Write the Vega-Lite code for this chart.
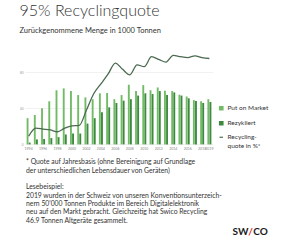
{
  "$schema": "https://vega.github.io/schema/vega-lite/v6.json",
  "background": "white",
  "padding": {"left": 19, "top": 3, "right": 0, "bottom": 0},
  "config": {
    "view": {"stroke": null},
    "font": "Lato",
    "concat": {"spacing": 4}
  },
  "title": {
    "text": "95% Recyclingquote",
    "subtitle": "Zurückgenommene Menge in 1000 Tonnen",
    "anchor": "start",
    "font": "Lato",
    "fontSize": 16,
    "fontWeight": 300,
    "color": "#333333",
    "subtitleFont": "Lato",
    "subtitleFontSize": 7.5,
    "subtitleColor": "#333333",
    "subtitlePadding": 8,
    "offset": 18
  },
  "resolve": {"scale": {"color": "independent"}, "legend": {"color": "independent"}},
  "vconcat": [
    {
      "width": 188,
      "height": 90.4,
      "data": {
        "values": [
          {"year": 1994, "pom": 29, "rez": 2, "quote": 9},
          {"year": 1995, "pom": 32.5, "rez": 5.5, "quote": 18},
          {"year": 1996, "pom": 40, "rez": 6, "quote": 17},
          {"year": 1997, "pom": 47.7, "rez": 7, "quote": 16},
          {"year": 1998, "pom": 60, "rez": 8, "quote": 14},
          {"year": 1999, "pom": 62, "rez": 11, "quote": 18},
          {"year": 2000, "pom": 59, "rez": 12, "quote": 20.5},
          {"year": 2001, "pom": 54.6, "rez": 12, "quote": 21},
          {"year": 2002, "pom": 52, "rez": 23, "quote": 38},
          {"year": 2003, "pom": 50, "rez": 29, "quote": 56},
          {"year": 2004, "pom": 56.5, "rez": 35.6, "quote": 67},
          {"year": 2005, "pom": 56.8, "rez": 41, "quote": 78},
          {"year": 2006, "pom": 50, "rez": 45.8, "quote": 90},
          {"year": 2007, "pom": 54.6, "rez": 48.4, "quote": 83},
          {"year": 2008, "pom": 66, "rez": 50, "quote": 77},
          {"year": 2009, "pom": 59, "rez": 54, "quote": 88},
          {"year": 2010, "pom": 65.6, "rez": 56.5, "quote": 86},
          {"year": 2011, "pom": 60, "rez": 55.7, "quote": 97},
          {"year": 2012, "pom": 63, "rez": 59, "quote": 94},
          {"year": 2013, "pom": 59.4, "rez": 54.6, "quote": 91},
          {"year": 2014, "pom": 59, "rez": 57.5, "quote": 98.5},
          {"year": 2015, "pom": 55, "rez": 54, "quote": 97},
          {"year": 2016, "pom": 53, "rez": 51, "quote": 96},
          {"year": 2017, "pom": 49, "rez": 48, "quote": 98},
          {"year": 2018, "pom": 47.7, "rez": 45.8, "quote": 96},
          {"year": 2019, "pom": 50, "rez": 46.9, "quote": 95}
        ]
      },
      "encoding": {
        "x": {
          "field": "year",
          "type": "ordinal",
          "scale": {"paddingInner": 0.45, "paddingOuter": 0.225},
          "axis": {
            "title": null,
            "values": [1994, 1996, 1998, 2000, 2002, 2004, 2006, 2008, 2010, 2012, 2014, 2016, 2018, 2019],
            "labelAngle": 0,
            "labelFontSize": 3.5,
            "labelColor": "#888888",
            "labelPadding": 2,
            "labelOverlap": false,
            "ticks": false,
            "domain": false
          }
        }
      },
      "layer": [
        {
          "transform": [
            {"fold": ["pom", "rez"], "as": ["key", "value"]},
            {"calculate": "datum.key == 'pom' ? 'Put on Market' : 'Rezykliert'", "as": "series"}
          ],
          "mark": {"type": "bar"},
          "encoding": {
            "xOffset": {"field": "series", "type": "nominal", "scale": {"paddingInner": 0.1}},
            "y": {
              "field": "value",
              "type": "quantitative",
              "scale": {"domain": [0, 100]},
              "axis": {
                "title": null,
                "values": [0, 10, 20, 30, 40, 50, 60, 70, 80, 90, 100],
                "labelFontSize": 3,
                "labelColor": "#999999",
                "labelPadding": 2,
                "labelOverlap": false,
                "ticks": false,
                "domain": false,
                "gridColor": "#e8e8e8",
                "gridWidth": 0.6
              }
            },
            "color": {
              "field": "series",
              "type": "nominal",
              "scale": {
                "domain": ["Put on Market", "Rezykliert", "Recycling-quote in %*"],
                "range": ["#72bb66", "#3d8a3f", "#4b6a50"]
              },
              "legend": {
                "title": null,
                "orient": "none",
                "legendX": 193,
                "legendY": 51,
                "symbolType": "square",
                "symbolSize": 12,
                "labelFontSize": 6.5,
                "labelColor": "#333333",
                "labelFont": "Lato",
                "labelOffset": 3,
                "rowPadding": 6,
                "labelExpr": "datum.label == 'Recycling-quote in %*' ? ['Recycling-', 'quote in %*'] : datum.label",
                "encode": {
                  "symbols": {
                    "update": {
                      "shape": {"signal": "datum.value == 'Recycling-quote in %*' ? 'stroke' : 'square'"},
                      "stroke": {"signal": "datum.value == 'Recycling-quote in %*' ? '#4b6a50' : null"},
                      "strokeWidth": {"value": 1.2}
                    }
                  }
                }
              }
            }
          }
        },
        {
          "mark": {"type": "line", "interpolate": "monotone", "strokeWidth": 1.3},
          "encoding": {
            "y": {"field": "quote", "type": "quantitative"},
            "color": {"datum": "Recycling-quote in %*"}
          }
        }
      ]
    },
    {
      "width": 268,
      "height": 75.2,
      "layer": [
        {
          "data": {
            "values": [
              {"line": 0, "text": "* Quote auf Jahresbasis (ohne Bereinigung auf Grundlage"},
              {"line": 1, "text": "der unterschiedlichen Lebensdauer von Geräten)"},
              {"line": 3, "text": "Lesebeispiel:"},
              {"line": 4, "text": "2019 wurden in der Schweiz von unseren Konventionsunterzeich-"},
              {"line": 5, "text": "nern 50'000 Tonnen Produkte im Bereich Digitalelektronik"},
              {"line": 6, "text": "neu auf den Markt gebracht. Gleichzeitig hat Swico Recycling"},
              {"line": 7, "text": "46.9 Tonnen Altgeräte gesammelt."}
            ]
          },
          "mark": {"type": "text", "align": "left", "baseline": "middle", "fontSize": 6.8, "font": "Lato", "color": "#333333"},
          "encoding": {
            "x": {"value": 1},
            "y": {"field": "line", "type": "quantitative", "scale": {"domain": [-0.5, 7.5], "reverse": true}, "axis": null},
            "text": {"field": "text"}
          }
        },
        {
          "data": {"values": [{"part": "SW"}, {"part": "/"}, {"part": "CO"}]},
          "mark": {"type": "text", "baseline": "middle", "fontSize": 10, "fontWeight": "bold", "font": "Lato", "clip": false},
          "encoding": {
            "x": {"field": "part", "type": "ordinal", "sort": ["SW", "/", "CO"], "scale": {"type": "point", "range": [210.5, 240.5]}, "axis": null},
            "y": {"datum": 8.3},
            "text": {"field": "part"},
            "color": {"field": "part", "type": "nominal", "scale": {"domain": ["SW", "/", "CO"], "range": ["#1a1a1a", "#e2231a", "#1a1a1a"]}, "legend": null}
          }
        }
      ]
    }
  ]
}
